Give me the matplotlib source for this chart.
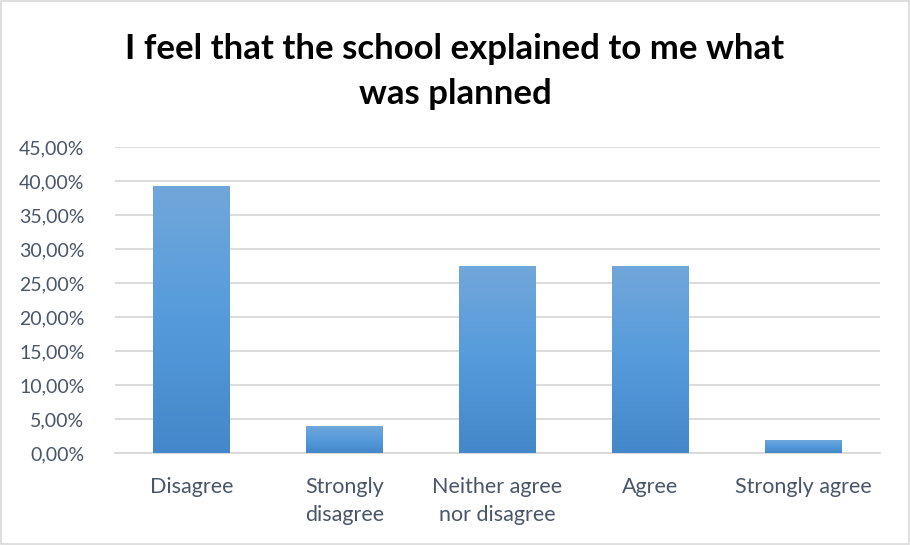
import numpy as np
import matplotlib
matplotlib.use("Agg")
import matplotlib.pyplot as plt
from matplotlib.colors import LinearSegmentedColormap
from matplotlib.patches import Rectangle
from matplotlib.ticker import FuncFormatter, MultipleLocator

categories = ["Disagree", "Strongly\ndisagree", "Neither agree\nnor disagree", "Agree", "Strongly agree"]
shares = [39.22, 3.92, 27.45, 27.45, 1.96]
title = "I feel that the school explained to me what\nwas planned"

plt.rcParams["font.family"] = ["Lato", "DejaVu Sans"]

fig = plt.figure(figsize=(9.1, 5.45), dpi=100)
ax = fig.add_axes([115 / 910, 1 - 453 / 545, 765 / 910, 306 / 545])

text_col = "#4A5568"
grid_col = "#D9D9D9"

x = np.arange(len(categories))
bars = ax.bar(x, shares, width=0.5, color="none", zorder=3)

# vertical gradient fill for each bar
cmap = LinearSegmentedColormap.from_list("barfill", ["#4487CA", "#559BDC", "#71A7DA"])
grad = np.linspace(0, 1, 256).reshape(-1, 1)
for b in bars:
    x0, y0 = b.get_x(), b.get_y()
    w, h = b.get_width(), b.get_height()
    im = ax.imshow(grad, extent=[x0, x0 + w, y0, y0 + h], origin="lower",
                   cmap=cmap, aspect="auto", zorder=3, interpolation="bilinear")
    im.set_clip_path(b)

ax.set_xlim(-0.5, len(categories) - 0.5)
ax.set_ylim(0, 45)
ax.yaxis.set_major_locator(MultipleLocator(5))
ax.yaxis.set_major_formatter(FuncFormatter(lambda v, p: f"{v:.2f}%".replace(".", ",")))
ax.grid(axis="y", color=grid_col, linewidth=1.3, zorder=0)
ax.set_axisbelow(True)

for s in ["top", "right", "left"]:
    ax.spines[s].set_visible(False)
ax.spines["bottom"].set_color(grid_col)
ax.spines["bottom"].set_linewidth(1.3)

ax.set_xticks(x)
ax.set_xticklabels(categories, fontsize=15.5, color=text_col, linespacing=1.55, va="top")
ax.tick_params(axis="x", length=0, pad=17)
ax.tick_params(axis="y", length=0, pad=22, labelsize=14, labelcolor=text_col)

fig.text(0.5, 1 - 71 / 545, title, ha="center", va="center", fontsize=25,
         fontweight="bold", color="#000000", linespacing=1.5)

# light frame around the whole chart
fig.patches.append(Rectangle((0.001, 0.001), 0.998, 0.997, transform=fig.transFigure,
                             fill=False, edgecolor="#D9D9D9", linewidth=1.2))

fig.savefig("out.png", dpi=100, facecolor="white")
